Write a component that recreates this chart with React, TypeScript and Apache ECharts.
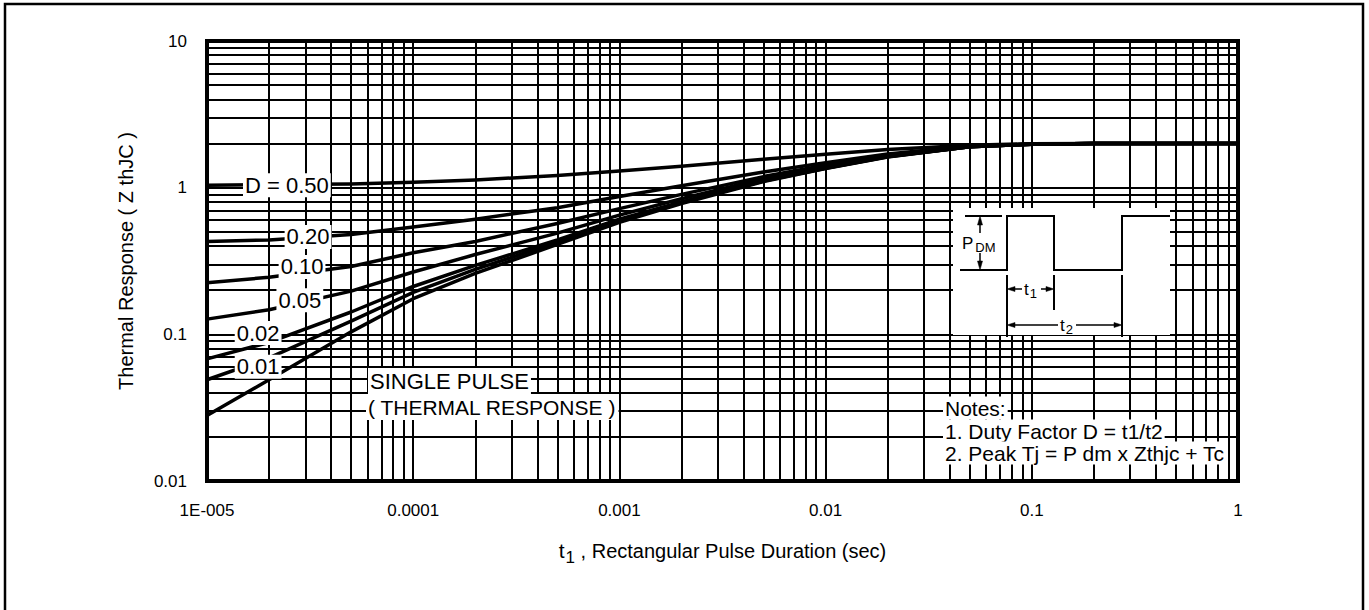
import React, { useEffect, useRef } from 'react';
import * as echarts from 'echarts';

const FONT = '"Liberation Sans", Arial, Helvetica, sans-serif';

// rectangular pulse duration t1 (sec)
const pulseTimes = [1e-5, 2e-5, 5e-5, 1e-4, 2e-4, 5e-4, 1e-3, 2e-3, 5e-3, 1e-2, 2e-2, 5e-2, 1e-1, 2e-1, 5e-1, 1];
// thermal response Z thJC for each duty factor
const zD050 = [1.04, 1.05, 1.06, 1.09, 1.13, 1.21, 1.3, 1.4, 1.56, 1.69, 1.82, 1.95, 1.99, 2.0, 2.0, 2.0];
const zD020 = [0.43, 0.44, 0.48, 0.54, 0.61, 0.73, 0.87, 1.03, 1.28, 1.48, 1.7, 1.92, 1.98, 2.0, 2.0, 2.0];
const zD010 = [0.225, 0.245, 0.29, 0.36, 0.43, 0.57, 0.72, 0.9, 1.19, 1.42, 1.66, 1.91, 1.98, 2.0, 2.0, 2.0];
const zD005 = [0.127, 0.147, 0.197, 0.266, 0.35, 0.49, 0.65, 0.84, 1.15, 1.38, 1.64, 1.9, 1.98, 2.0, 2.0, 2.0];
const zD002 = [0.068, 0.088, 0.142, 0.212, 0.295, 0.44, 0.61, 0.8, 1.12, 1.36, 1.63, 1.9, 1.98, 2.0, 2.0, 2.0];
const zD001 = [0.049, 0.069, 0.123, 0.193, 0.277, 0.425, 0.595, 0.79, 1.11, 1.355, 1.625, 1.9, 1.98, 2.0, 2.0, 2.0];
const zSingle = [0.028, 0.049, 0.104, 0.175, 0.26, 0.41, 0.58, 0.78, 1.1, 1.35, 1.62, 1.9, 1.98, 2.0, 2.0, 2.0];

const curveNames = ['D = 0.50', '0.20', '0.10', '0.05', '0.02', '0.01', 'Single pulse'];
const curveValues = [zD050, zD020, zD010, zD005, zD002, zD001, zSingle];

// in-plot curve labels (data coordinates)
const curveLabelText = ['D = 0.50', '0.20', '0.10', '0.05', '0.02', '0.01'];
const curveLabelT = [2.44e-5, 3.09e-5, 2.89e-5, 2.82e-5, 1.77e-5, 1.77e-5];
const curveLabelZ = [1.04, 0.461, 0.288, 0.171, 0.102, 0.06];

// axes
const xTickValues = [1e-5, 1e-4, 1e-3, 1e-2, 1e-1, 1];
const xTickLabels = ['1E-005', '0.0001', '0.001', '0.01', '0.1', '1'];
const yTickValues = [0.01, 0.1, 1, 10];
const yTickLabels = ['0.01', '0.1', '1', '10'];
const xDecades = [1e-5, 1e-4, 1e-3, 1e-2, 1e-1];
const yDecades = [0.01, 0.1, 1];
const gridMultipliers = [1, 2, 3, 4, 5, 6, 7, 8, 9];

const xGridValues = [...xDecades.flatMap((d) => gridMultipliers.map((m) => d * m)), 1];
const yGridValues = [...yDecades.flatMap((d) => gridMultipliers.map((m) => d * m)), 10];

function lookup(values: number[], labels: string[], v: number) {
  for (let i = 0; i < values.length; i++) {
    if (Math.abs(Math.log10(v) - Math.log10(values[i])) < 0.01) return labels[i];
  }
  return '';
}

function line(x1: number, y1: number, x2: number, y2: number, w = 2) {
  return {
    type: 'line',
    z: 60,
    silent: true,
    shape: { x1, y1, x2, y2 },
    style: { stroke: '#000', lineWidth: w },
  };
}

function arrow(points: number[][]) {
  return {
    type: 'polygon',
    z: 60,
    silent: true,
    shape: { points },
    style: { fill: '#000', stroke: '#000', lineWidth: 0.5 },
  };
}

function label(text: string, x: number, y: number, fontSize: number, lineHeight: number) {
  return {
    type: 'text',
    z: 70,
    silent: true,
    x,
    y,
    style: {
      text,
      fill: '#000',
      fontSize,
      fontFamily: FONT,
      align: 'left',
      verticalAlign: 'middle',
      lineHeight,
      backgroundColor: '#fff',
      padding: [0, 2, 0, 2],
    },
  };
}

export default function App() {
  const ref = useRef<HTMLDivElement>(null);

  useEffect(() => {
    document.body.style.margin = '0';
    const chart = echarts.init(ref.current!, null, { renderer: 'svg' });

    const curveSeries = curveNames.map((name, k) => ({
      name,
      type: 'line',
      data: pulseTimes.map((t, i) => [t, curveValues[k][i]]),
      showSymbol: false,
      symbol: 'none',
      smooth: false,
      silent: true,
      z: 3,
      lineStyle: { color: '#000', width: 3.5, join: 'round' },
      ...(k === curveNames.length - 1
        ? {
            markLine: {
              silent: true,
              symbol: ['none', 'none'],
              precision: 20,
              label: { show: false },
              emphasis: { disabled: true },
              lineStyle: { color: '#000', width: 2, type: 'solid' },
              data: [
                ...xGridValues.map((v) => ({ xAxis: v })),
                ...yGridValues.map((v) => ({ yAxis: v })),
              ],
            },
          }
        : {}),
    }));

    const labelSeries = {
      type: 'scatter',
      z: 10,
      silent: true,
      symbol: 'rect',
      symbolSize: 1,
      itemStyle: { color: '#fff', opacity: 1 },
      emphasis: { disabled: true },
      data: curveLabelText.map((n, i) => ({ name: n, value: [curveLabelT[i], curveLabelZ[i]] })),
      label: {
        show: true,
        position: 'inside',
        formatter: '{b}',
        color: '#000',
        opacity: 1,
        fontSize: 22,
        fontFamily: FONT,
        backgroundColor: '#ffffff',
        padding: [1, 2, 1, 2],
      },
    };

    const graphics: any[] = [
      {
        type: 'rect',
        z: 100,
        silent: true,
        shape: { x: 5, y: 4, width: 1358, height: 640 },
        style: { fill: 'none', stroke: '#000', lineWidth: 2.5 },
      },
      // inset white area
      {
        type: 'rect',
        z: 50,
        silent: true,
        shape: { x: 953, y: 208, width: 217, height: 127 },
        style: { fill: '#fff' },
      },
      // pulse train
      {
        type: 'polyline',
        z: 60,
        silent: true,
        shape: {
          points: [
            [960, 270], [1007, 270], [1007, 216], [1054, 216], [1054, 270],
            [1122, 270], [1122, 216], [1170, 216],
          ],
        },
        style: { stroke: '#000', lineWidth: 2, fill: 'none' },
      },
      line(965, 216, 1002, 216),
      // P_DM arrow
      line(980, 222, 980, 233, 1.5),
      line(980, 253, 980, 264, 1.5),
      arrow([[980, 216], [977.5, 225], [982.5, 225]]),
      arrow([[980, 270], [977.5, 261], [982.5, 261]]),
      {
        type: 'text',
        z: 70,
        silent: true,
        x: 962,
        y: 243,
        style: {
          text: '{p|P}{s|DM}',
          fill: '#000',
          fontFamily: FONT,
          verticalAlign: 'middle',
          rich: {
            p: { fontSize: 17, fontFamily: FONT, fill: '#000' },
            s: { fontSize: 13, fontFamily: FONT, fill: '#000', padding: [8, 0, 0, 2] },
          },
        },
      },
      // t1 / t2 markers
      line(1007, 275, 1007, 337),
      line(1054, 275, 1054, 310),
      line(1122, 275, 1122, 337),
      line(1013, 289, 1022, 289, 1.5),
      line(1041, 289, 1048, 289, 1.5),
      arrow([[1007, 289], [1015, 286.5], [1015, 291.5]]),
      arrow([[1054, 289], [1046, 286.5], [1046, 291.5]]),
      line(1013, 325, 1058, 325, 1.5),
      line(1076, 325, 1116, 325, 1.5),
      arrow([[1007, 325], [1015, 322.5], [1015, 327.5]]),
      arrow([[1122, 325], [1114, 322.5], [1114, 327.5]]),
      {
        type: 'text',
        z: 70,
        silent: true,
        x: 1024,
        y: 289,
        style: {
          text: '{t|t}{s|1}',
          fill: '#000',
          verticalAlign: 'middle',
          rich: {
            t: { fontSize: 17, fontFamily: FONT, fill: '#000' },
            s: { fontSize: 13, fontFamily: FONT, fill: '#000', padding: [8, 0, 0, 1] },
          },
        },
      },
      {
        type: 'text',
        z: 70,
        silent: true,
        x: 1060,
        y: 325,
        style: {
          text: '{t|t}{s|2}',
          fill: '#000',
          verticalAlign: 'middle',
          rich: {
            t: { fontSize: 17, fontFamily: FONT, fill: '#000' },
            s: { fontSize: 13, fontFamily: FONT, fill: '#000', padding: [8, 0, 0, 1] },
          },
        },
      },
      // single pulse note
      label('SINGLE PULSE', 368, 381, 22, 26),
      label('( THERMAL RESPONSE )', 366, 407, 21, 26),
      // notes
      label('Notes:', 943, 408, 21, 23),
      label('1. Duty Factor D = t1/t2', 943, 431, 21, 23),
      label('2. Peak Tj = P dm x Zthjc + Tc', 943, 453, 21, 23),
    ];

    const option: any = {
      animation: false,
      backgroundColor: '#fff',
      textStyle: { fontFamily: FONT },
      grid: {
        left: 207,
        top: 41,
        width: 1031,
        height: 440,
        show: true,
        borderColor: '#000',
        borderWidth: 4,
        backgroundColor: 'rgba(0,0,0,0)',
      },
      xAxis: {
        type: 'log',
        logBase: 10,
        min: 1e-5,
        max: 1,
        splitNumber: 5,
        axisLine: { show: false },
        axisTick: { show: false },
        splitLine: { show: false },
        axisLabel: {
          margin: 21,
          fontSize: 17,
          color: '#000',
          fontFamily: FONT,
          formatter: (v: number) => lookup(xTickValues, xTickLabels, v),
        },
        name: '{t|t}{s|1}{n| , Rectangular Pulse Duration (sec)}',
        nameLocation: 'middle',
        nameGap: 54,
        nameTextStyle: {
          color: '#000',
          fontFamily: FONT,
          fontSize: 20,
          rich: {
            t: { fontSize: 21, fontFamily: FONT, color: '#000' },
            s: { fontSize: 17, fontFamily: FONT, color: '#000', padding: [14, 0, 0, 1] },
            n: { fontSize: 20, fontFamily: FONT, color: '#000' },
          },
        },
      },
      yAxis: {
        type: 'log',
        logBase: 10,
        min: 0.01,
        max: 10,
        splitNumber: 3,
        axisLine: { show: false },
        axisTick: { show: false },
        splitLine: { show: false },
        axisLabel: {
          margin: 20,
          fontSize: 17,
          color: '#000',
          fontFamily: FONT,
          formatter: (v: number) => lookup(yTickValues, yTickLabels, v),
        },
        name: 'Thermal Response ( Z thJC )',
        nameLocation: 'middle',
        nameGap: 71,
        nameTextStyle: { color: '#000', fontFamily: FONT, fontSize: 20 },
      },
      series: [...curveSeries, labelSeries],
      graphic: { elements: graphics },
    };

    chart.setOption(option);
    return () => chart.dispose();
  }, []);

  return <div ref={ref} style={{ width: 1369, height: 610, background: '#fff', overflow: 'hidden' }} />;
}
